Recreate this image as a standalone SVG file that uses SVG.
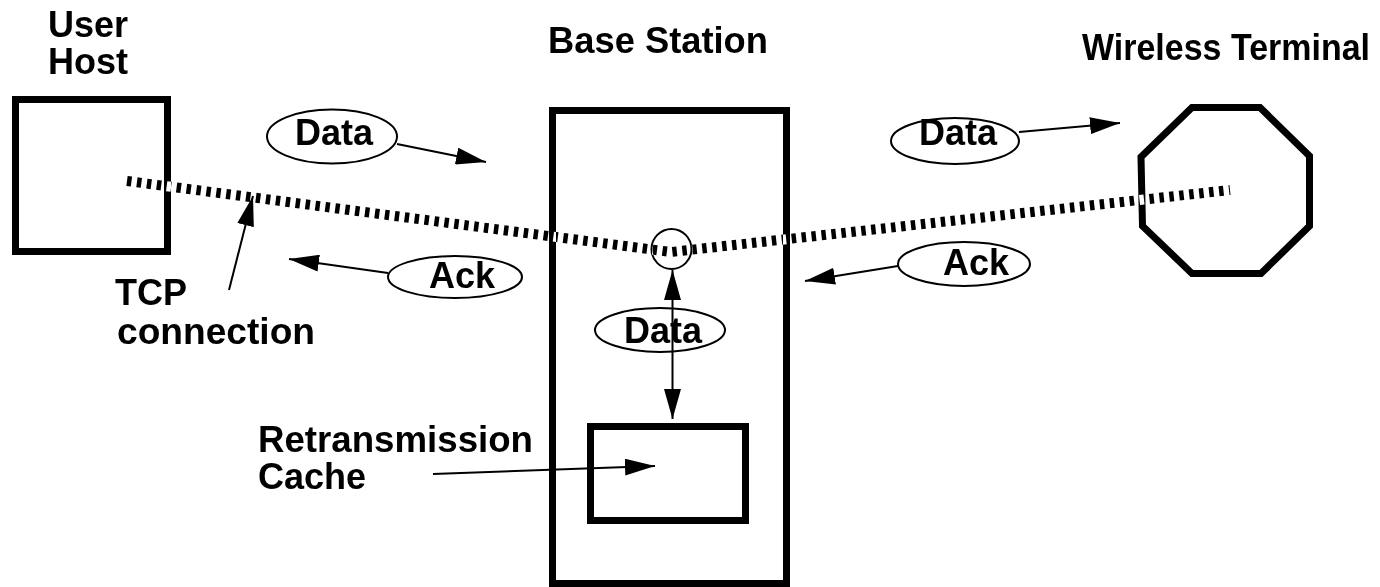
<svg xmlns="http://www.w3.org/2000/svg" width="1380" height="587" viewBox="0 0 1380 587">
  <style>
    .lbl { font-family: "Liberation Sans", Arial, sans-serif; font-weight: bold; font-size: 36px; fill: #000; }
    .mid { text-anchor: middle; }
    .box { fill: none; stroke: #000; stroke-width: 7; }
    .oval { fill: #fff; stroke: #000; stroke-width: 2; }
    .arr { fill: none; stroke: #000; stroke-width: 2; marker-end: url(#ah); }
    .tcp { fill: none; stroke: #fff; stroke-width: 10; stroke-dasharray: 4.5 5.5; mix-blend-mode: difference; }
  </style>
  <defs>
    <marker id="ah" viewBox="0 0 30 17" refX="30" refY="8.5" markerWidth="30" markerHeight="17" markerUnits="userSpaceOnUse" orient="auto-start-reverse">
      <path d="M0,0 L30,8.5 L0,17 Z" fill="#000"/>
    </marker>
  </defs>
  <rect x="0" y="0" width="1380" height="587" fill="#fff"/>

  <g id="user-host">
    <rect class="box" x="15.5" y="99.5" width="152" height="152"/>
    <text class="lbl" x="48" y="37">User</text>
    <text class="lbl" x="48" y="74">Host</text>
  </g>

  <g id="base-station">
    <rect class="box" x="552.5" y="110.5" width="234" height="473"/>
    <text class="lbl" x="548" y="53" textLength="220" lengthAdjust="spacingAndGlyphs">Base Station</text>
  </g>

  <g id="retransmission-cache">
    <rect class="box" x="590.5" y="426.5" width="155" height="94"/>
    <text class="lbl" x="258" y="452" textLength="275" lengthAdjust="spacingAndGlyphs">Retransmission</text>
    <text class="lbl" x="258" y="489">Cache</text>
  </g>

  <g id="wireless-terminal">
    <polygon class="box" points="1192,107.5 1260,107.5 1309.5,156 1309.5,226 1261,273.5 1192,273.5 1142.5,226 1141,157"/>
    <text class="lbl" x="1082" y="60" textLength="288" lengthAdjust="spacingAndGlyphs">Wireless Terminal</text>
  </g>

  <g id="split-point">
    <circle cx="671.5" cy="249" r="20" fill="none" stroke="#000" stroke-width="2"/>
  </g>

  <g id="tcp-label">
    <text class="lbl" x="115" y="305">TCP</text>
    <text class="lbl" x="117" y="344" textLength="198" lengthAdjust="spacingAndGlyphs">connection</text>
  </g>

  <g id="connectors">
    <polyline class="tcp" points="127,181 671,252 1230,190"/>
    <line class="arr" x1="229" y1="290" x2="253" y2="196"/>
    <line class="arr" x1="397" y1="144" x2="486" y2="162"/>
    <line class="arr" x1="388" y1="273" x2="289" y2="259"/>
    <line class="arr" x1="1019" y1="132" x2="1120" y2="123"/>
    <line class="arr" x1="898" y1="266" x2="805" y2="281"/>
    <line x1="672.5" y1="270" x2="672.5" y2="419" stroke="#000" stroke-width="2" marker-start="url(#ah)" marker-end="url(#ah)"/>
    <line class="arr" x1="433" y1="474" x2="655" y2="466"/>
  </g>

  <g id="label-data-1">
    <ellipse class="oval" cx="332" cy="136.5" rx="65" ry="27"/>
    <text class="lbl mid" x="334" y="145">Data</text>
  </g>
  <g id="label-ack-1">
    <ellipse class="oval" cx="455" cy="277" rx="67" ry="21"/>
    <text class="lbl mid" x="462" y="288">Ack</text>
  </g>
  <g id="label-data-2">
    <ellipse class="oval" cx="955" cy="141" rx="64" ry="23"/>
    <text class="lbl mid" x="958" y="145">Data</text>
  </g>
  <g id="label-ack-2">
    <ellipse class="oval" cx="964" cy="264" rx="66" ry="22"/>
    <text class="lbl mid" x="976" y="275">Ack</text>
  </g>
  <g id="label-data-3">
    <ellipse cx="660" cy="330" rx="65" ry="22" fill="none" stroke="#000" stroke-width="2"/>
    <text class="lbl mid" x="663" y="343">Data</text>
  </g>
</svg>
